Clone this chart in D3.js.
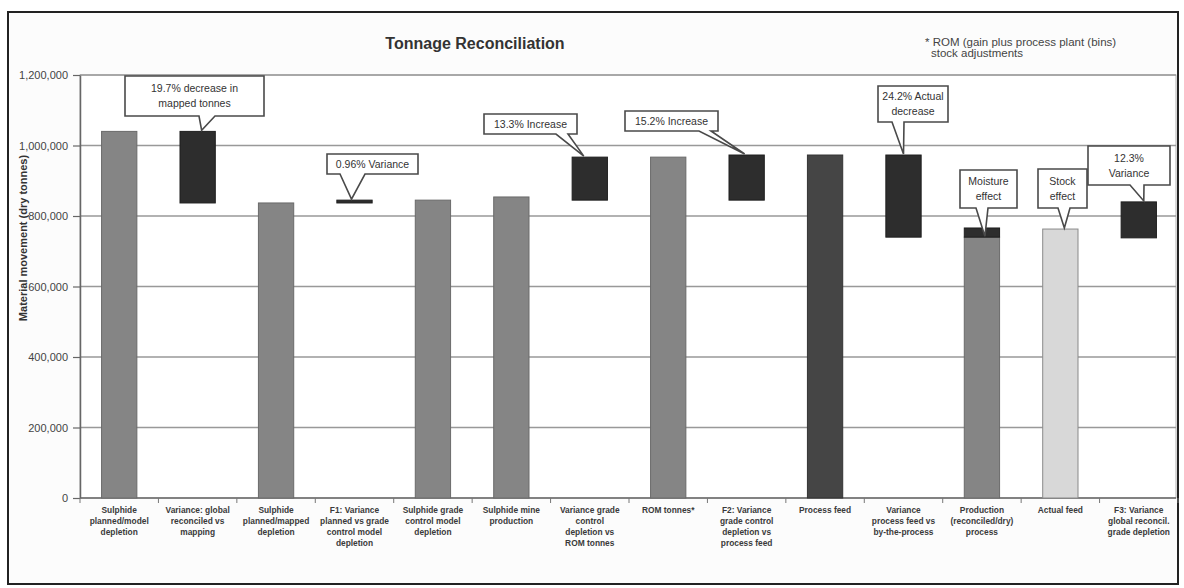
<!DOCTYPE html>
<html>
<head>
<meta charset="utf-8">
<script src="https://cdn.jsdelivr.net/npm/d3@7"></script>
<style>
  html, body { margin: 0; padding: 0; background: #ffffff; }
  svg { display: block; font-family: Arial, "Liberation Sans", sans-serif; }
</style>
</head>
<body>
<svg id="chart" width="1184" height="588"></svg>
<script>
// ---------------- data ----------------
const categories = [
  "Sulphide\nplanned/model\ndepletion",
  "Variance: global\nreconciled vs\nmapping",
  "Sulphide\nplanned/mapped\ndepletion",
  "F1: Variance\nplanned vs grade\ncontrol model\ndepletion",
  "Sulphide grade\ncontrol model\ndepletion",
  "Sulphide mine\nproduction",
  "Variance grade\ncontrol\ndepletion vs\nROM tonnes",
  "ROM tonnes*",
  "F2: Variance\ngrade control\ndepletion vs\nprocess feed",
  "Process feed",
  "Variance\nprocess feed vs\nby-the-process",
  "Production\n(reconciled/dry)\nprocess",
  "Actual feed",
  "F3: Variance\nglobal reconcil.\ngrade depletion"
];
// full-height totals (null where the category is a floating variance)
const totalValues = [1040000, null, 837000, null, 845000, 854000, null, 967000, null, 973000, null, 740000, 763000, null];
const totalGroup  = ["model", null, "model", null, "model", "model", null, "model", null, "feed", null, "model", "actual", null];
// floating variance bars: from -> to
const varianceFrom = [null, 1040000, null, 837000, null, null, 845000, null, 845000, null, 973000, 740000, null, 840000];
const varianceTo   = [null, 837000, null, 845000, null, null, 967000, null, 973000, null, 740000, 766000, null, 738000];
const calloutTexts = [null, "19.7% decrease in\nmapped tonnes", null, "0.96% Variance", null, null,
  "13.3% Increase", null, "15.2% Increase", null, "24.2% Actual\ndecrease", "Moisture\neffect", "Stock\neffect", "12.3%\nVariance"];
const yTicks = [0, 200000, 400000, 600000, 800000, 1000000, 1200000];
const chartTitle = "Tonnage Reconciliation";
const yTitle = "Material movement (dry tonnes)";
const noteLines = ["* ROM (gain plus process plant (bins)", "stock adjustments"];

// ---------------- layout ----------------
const plot = { left: 80, right: 1176, top: 75, bottom: 498 };
// callout boxes: left/top/width/height in px, wedge base offsets from box left, target dx from bar center
const calloutLayout = {
  1:  { x: 125, y: 76,  w: 139, h: 40, wl: 74, wr: 90, tdx: 4 },
  3:  { x: 327, y: 154, w: 91,  h: 20, wl: 13, wr: 38, tdx: -3 },
  6:  { x: 484, y: 114, w: 93,  h: 20, wl: 72, wr: 84, tdx: -6 },
  8:  { x: 625, y: 111, w: 93,  h: 20, wl: 74, wr: 86, tdx: -2 },
  10: { x: 878, y: 86,  w: 70,  h: 36, wl: 14, wr: 26, tdx: 0 },
  11: { x: 960, y: 170, w: 57,  h: 38, wl: 16, wr: 28, tdx: 3 },
  12: { x: 1038, y: 169, w: 49, h: 39, wl: 20, wr: 32, tdx: 4 },
  13: { x: 1088, y: 146, w: 82, h: 39, wl: 42, wr: 56, tdx: 5 }
};
const groupColor = d3.scaleOrdinal().domain(["model", "feed", "actual"]).range(["#858585", "#454545", "#d8d8d8"]);
const groupStroke = d3.scaleOrdinal().domain(["model", "feed", "actual"]).range(["#6a6a6a", "#333333", "#8a8a8a"]);

const svg = d3.select("#chart");

// outer frame
svg.append("rect").attr("x", 8).attr("y", 12).attr("width", 1170).attr("height", 572)
  .attr("fill", "#fcfcfc").attr("stroke", "#222").attr("stroke-width", 2);
svg.append("rect").attr("x", plot.left).attr("y", plot.top)
  .attr("width", plot.right - plot.left).attr("height", plot.bottom - plot.top)
  .attr("fill", "#ffffff").attr("stroke", "#b0b0b0").attr("stroke-width", 1);

const x = d3.scaleBand().domain(d3.range(categories.length))
  .range([plot.left, 1178]).paddingInner(0.55).paddingOuter(0.275);
const y = d3.scaleLinear().domain([0, 1200000]).range([plot.bottom, plot.top]);

// gridlines
svg.append("g").selectAll("line").data(yTicks.filter(d => d > 0)).join("line")
  .attr("x1", plot.left).attr("x2", plot.right)
  .attr("y1", d => y(d)).attr("y2", d => y(d))
  .attr("stroke", "#999").attr("stroke-width", 1.6);

// y axis
const yAxis = svg.append("g").attr("transform", `translate(${plot.left},0)`)
  .call(d3.axisLeft(y).tickValues(yTicks).tickFormat(d3.format(",")).tickSize(7).tickSizeOuter(0).tickPadding(5));
yAxis.select(".domain").attr("stroke", "#666").attr("stroke-width", 1.5);
yAxis.selectAll(".tick line").attr("stroke", "#666").attr("stroke-width", 1.2);
yAxis.selectAll(".tick text").attr("font-size", 11).attr("fill", "#444").attr("font-family", "Arial, 'Liberation Sans', sans-serif");

// x axis baseline with category separators
const xAxisG = svg.append("g");
xAxisG.append("line").attr("x1", plot.left).attr("x2", plot.right)
  .attr("y1", plot.bottom).attr("y2", plot.bottom).attr("stroke", "#666").attr("stroke-width", 1.5);
xAxisG.selectAll("line.sep").data(d3.range(categories.length + 1)).join("line").attr("class", "sep")
  .attr("x1", i => plot.left + i * x.step()).attr("x2", i => plot.left + i * x.step())
  .attr("y1", plot.bottom).attr("y2", plot.bottom + 5).attr("stroke", "#777").attr("stroke-width", 1);

// category labels
const labG = svg.append("g");
categories.forEach((c, i) => {
  const t = labG.append("text").attr("text-anchor", "middle")
    .attr("font-size", 8.4).attr("font-weight", "bold").attr("fill", "#3a3a3a");
  c.split("\n").forEach((line, k) => {
    t.append("tspan").attr("x", x(i) + x.bandwidth() / 2).attr("y", 513 + k * 11).text(line);
  });
});

// total bars
const totIdx = d3.range(categories.length).filter(i => totalValues[i] != null);
svg.append("g").selectAll("rect").data(totIdx).join("rect")
  .attr("x", i => x(i)).attr("width", x.bandwidth())
  .attr("y", i => y(totalValues[i])).attr("height", i => y(0) - y(totalValues[i]))
  .attr("fill", i => groupColor(totalGroup[i])).attr("stroke", i => groupStroke(totalGroup[i])).attr("stroke-width", 1);

// variance bars
const varIdx = d3.range(categories.length).filter(i => varianceFrom[i] != null);
svg.append("g").selectAll("rect").data(varIdx).join("rect")
  .attr("x", i => x(i)).attr("width", x.bandwidth())
  .attr("y", i => y(Math.max(varianceFrom[i], varianceTo[i])))
  .attr("height", i => Math.max(2.5, Math.abs(y(varianceFrom[i]) - y(varianceTo[i]))))
  .attr("fill", "#2d2d2d").attr("stroke", "#1e1e1e").attr("stroke-width", 1);

// callouts
const calG = svg.append("g");
Object.keys(calloutLayout).forEach(key => {
  const i = +key, L = calloutLayout[key];
  const top = totalValues[i] != null ? totalValues[i] : Math.max(varianceFrom[i], varianceTo[i]);
  const tx = x(i) + x.bandwidth() / 2 + L.tdx, ty = y(top) - 1;
  const b = L.y + L.h;
  const p = d3.path();
  p.moveTo(L.x, L.y); p.lineTo(L.x + L.w, L.y); p.lineTo(L.x + L.w, b);
  p.lineTo(L.x + L.wr, b); p.lineTo(tx, ty); p.lineTo(L.x + L.wl, b);
  p.lineTo(L.x, b); p.closePath();
  calG.append("path").attr("d", p.toString()).attr("fill", "#ffffff")
    .attr("stroke", "#4a4a4a").attr("stroke-width", 1.6).attr("stroke-linejoin", "miter");
  const lines = calloutTexts[i].split("\n");
  const t = calG.append("text").attr("text-anchor", "middle").attr("font-size", 10.5)
    .attr("fill", "#333");
  const lh = 15;
  const y0 = L.y + L.h / 2 - (lines.length - 1) * lh / 2 + 3.5;
  lines.forEach((ln, k) => t.append("tspan").attr("x", L.x + L.w / 2).attr("y", y0 + k * lh).text(ln));
});

// title
svg.append("text").attr("x", 475).attr("y", 49).attr("text-anchor", "middle")
  .attr("font-size", 16).attr("font-weight", "bold").attr("fill", "#333").text(chartTitle);

// note
const note = svg.append("text").attr("font-size", 11.5).attr("fill", "#444");
noteLines.forEach((ln, k) => note.append("tspan").attr("x", 925 + (k ? 6 : 0)).attr("y", 46 + k * 11).text(ln));

// y title
svg.append("text").attr("transform", "translate(27,238) rotate(-90)").attr("text-anchor", "middle")
  .attr("font-size", 11).attr("font-weight", "bold").attr("fill", "#333").text(yTitle);
</script>
</body>
</html>
